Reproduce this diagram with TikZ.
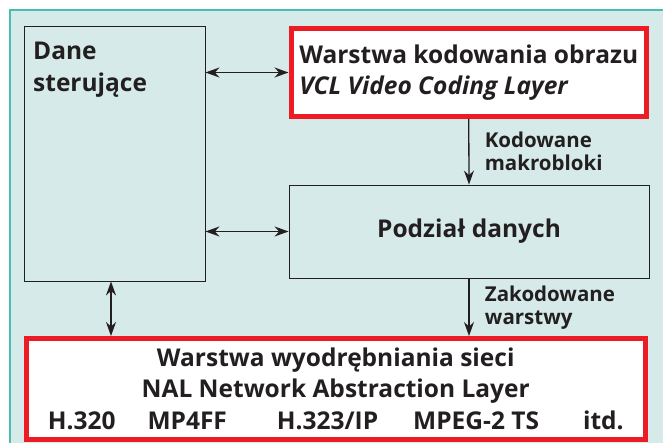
\documentclass[tikz,border=0pt]{standalone}
\usepackage{fontspec}
\setmainfont{Open Sans}
\usetikzlibrary{arrows.meta}
\definecolor{tlo}{RGB}{214,235,233}
\definecolor{morski}{RGB}{72,190,178}
\definecolor{czerwony}{RGB}{237,28,36}
\definecolor{ciemny}{RGB}{35,31,32}
\begin{document}
\begin{tikzpicture}[x=1pt, y=-1pt, every node/.style={font=\bfseries\fontsize{24.5}{31.5}\selectfont, text=ciemny},
  >={Stealth[length=14pt, width=10pt]},
  blok/.style={draw=ciemny, line width=0.9pt, fill=tlo, minimum width=#1},
  warstwa/.style={draw=czerwony, line width=5pt, fill=white, align=center},
  opis/.style={font=\bfseries\fontsize{20.5}{23}\selectfont, align=left, anchor=west, xshift=12pt},
  strz/.style={draw=ciemny, line width=1.3pt}]
  \useasboundingbox (0,0) rectangle (663,443);
  % tlo
  \fill[tlo] (10,10) rectangle (663,443);
  \draw[morski, line width=2pt] (10,443) -- (10,10) -- (663,10);
  % bloki
  \node[blok=181pt, minimum height=255pt] (dane) at (114.5,153.5) {};
  \node[anchor=north west, align=left, inner sep=0pt] (daneopis) at (33,42) {Dane\\steruj\k{a}ce};
  \node[warstwa, minimum width=355.5pt, minimum height=88pt, align=left] (vcl) at (468.75,72.5)
    {Warstwa kodowania obrazu\\\textit{VCL Video Coding Layer}};
  \node[blok=360pt, minimum height=93pt] (podzial) at (469,231.5) {Podzia\l{} danych};
  \node[warstwa, minimum width=618.5pt, minimum height=100.5pt] (nal) at (335.75,388.75)
    {Warstwa wyodr\k{e}bniania sieci\\NAL Network Abstraction Layer\\
     H.320\hspace{32pt}MP4FF\hspace{50pt}H.323/IP\hspace{35pt}MPEG-2 TS\hspace{44pt}itd.};
  % strzalki
  \draw[strz, <->] (vcl.west -| dane.east) -- (vcl.west);
  \draw[strz, <->] (podzial.west -| dane.east) -- (podzial.west);
  \draw[strz, <->] ([xshift=-3.5pt]dane.south) -- ([xshift=-3.5pt]dane.south |- nal.north);
  \draw[strz, ->] (vcl.south) -- node[opis] {Kodowane\\makrobloki} (podzial.north);
  \draw[strz, ->] (podzial.south) -- node[opis] {Zakodowane\\warstwy} (podzial.south |- nal.north);
\end{tikzpicture}
\end{document}
